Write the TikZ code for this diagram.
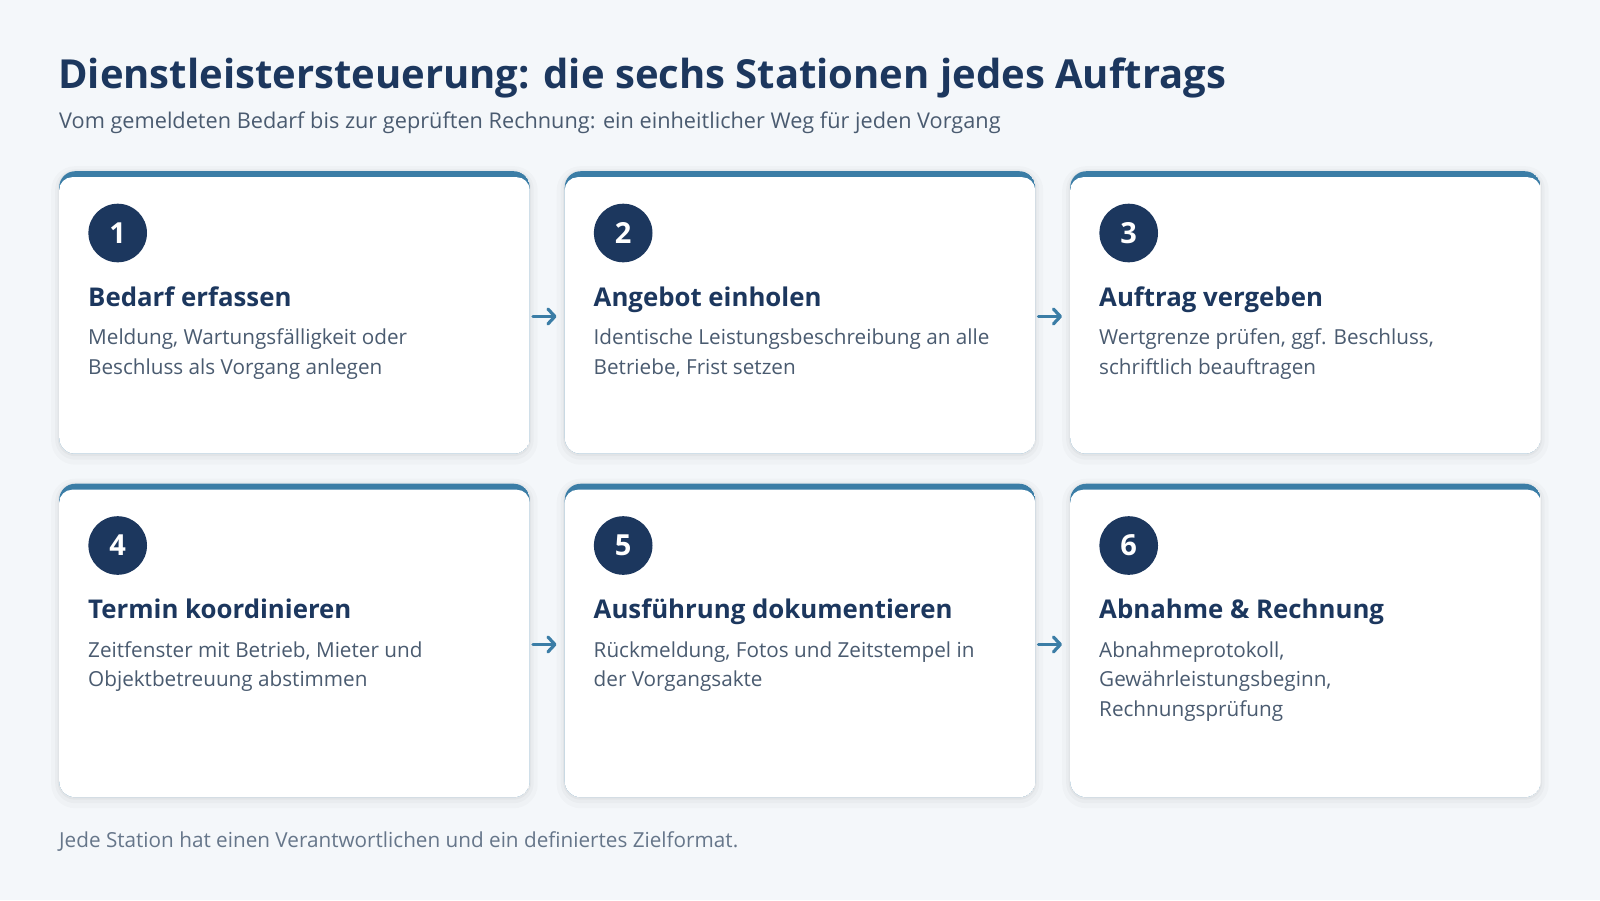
\documentclass[tikz,border=0pt]{standalone}
\usepackage{fontspec}
\setmainfont{Open Sans}
\usetikzlibrary{positioning,arrows.meta}
\definecolor{navy}{HTML}{1C375E}
\definecolor{steel}{HTML}{3B7DA6}
\definecolor{slate}{HTML}{4A5B70}
\definecolor{muted}{HTML}{66768A}
\definecolor{paper}{HTML}{F4F7FA}
\begin{document}
\begin{tikzpicture}[x=1pt,y=-1pt,
	card/.style={rectangle,anchor=north west,inner sep=0,minimum width=470.5pt,fill=white,rounded corners=16pt,
		preaction={draw=black,draw opacity=0.018,line width=16pt,transform canvas={yshift=-3pt}},
		preaction={draw=black,draw opacity=0.022,line width=8pt,transform canvas={yshift=-2pt}},
		preaction={draw=black,draw opacity=0.03,line width=3pt,transform canvas={yshift=-1pt}},
		path picture={\fill[steel] (path picture bounding box.north west) rectangle (path picture bounding box.south east);
			\fill[white,rounded corners=13pt] ([yshift=-6pt]path picture bounding box.north west) rectangle (path picture bounding box.south east);}},
	num/.style={circle,fill=navy,text=white,minimum size=58.6pt,inner sep=0,font=\fontsize{29}{32}\selectfont\bfseries},
	head/.style={anchor=base west,inner sep=0,text=navy,font=\fontsize{25.8}{31}\selectfont\bfseries},
	desc/.style={anchor=north west,inner sep=0,align=left,text=slate,font=\fontsize{20.7}{29.5}\selectfont},
	flow/.style={steel,line width=3.2pt,line cap=round,-{Straight Barb[length=7pt,width=15pt,round]}}]
	\fill[paper] (0,0) rectangle (1600,900);
	\useasboundingbox (0,0) rectangle (1600,900);
	\node[anchor=base west,inner sep=0,text=navy,font=\fontsize{40}{48}\selectfont\bfseries] (titel) at (58,88) {Dienstleistersteuerung: die sechs Stationen jedes Auftrags};
	\node[anchor=base west,inner sep=0,text=slate,font=\fontsize{21.7}{26}\selectfont] (untertitel) at (59,128.3) {Vom gemeldeten Bedarf bis zur geprüften Rechnung: ein einheitlicher Weg für jeden Vorgang};
	% Stationen
	\foreach \n/\x/\y/\h/\t/\d in {
		1/59/171/282.5pt/{Bedarf erfassen}/{Meldung, Wartungsfälligkeit oder\\Beschluss als Vorgang anlegen},
		2/564.5/171/282.5pt/{Angebot einholen}/{Identische Leistungsbeschreibung an alle\\Betriebe, Frist setzen},
		3/1070/171/282.5pt/{Auftrag vergeben}/{Wertgrenze prüfen, ggf. Beschluss,\\schriftlich beauftragen},
		4/59/483.5/313.5pt/{Termin koordinieren}/{Zeitfenster mit Betrieb, Mieter und\\Objektbetreuung abstimmen},
		5/564.5/483.5/313.5pt/{Ausführung dokumentieren}/{Rückmeldung, Fotos und Zeitstempel in\\der Vorgangsakte},
		6/1070/483.5/313.5pt/{Abnahme \& Rechnung}/{Abnahmeprotokoll,\\Gewährleistungsbeginn,\\Rechnungsprüfung}}{
		\node[card,minimum height=\h] (c\n) at (\x,\y) {};
		\node[num] (n\n) at ([xshift=58.7pt,yshift=-62pt]c\n.north west) {\n};
		\node[head] (h\n) at ([xshift=29pt,yshift=-135pt]c\n.north west) {\t};
		\node[desc] (d\n) at ([xshift=29pt,yshift=-153pt]c\n.north west) {\strut\d};
	}
	\draw[flow] ([xshift=3pt,yshift=-4pt]c1.east) -- ([xshift=-8pt,yshift=-4pt]c2.west);
	\draw[flow] ([xshift=3pt,yshift=-4pt]c2.east) -- ([xshift=-8pt,yshift=-4pt]c3.west);
	\draw[flow] ([xshift=3pt,yshift=-4pt]c4.east) -- ([xshift=-8pt,yshift=-4pt]c5.west);
	\draw[flow] ([xshift=3pt,yshift=-4pt]c5.east) -- ([xshift=-8pt,yshift=-4pt]c6.west);
	\node[anchor=base west,inner sep=0,text=muted,font=\fontsize{20.7}{25}\selectfont] (fuss) at (59,847.3) {Jede Station hat einen Verantwortlichen und ein definiertes Zielformat.};
\end{tikzpicture}
\end{document}
